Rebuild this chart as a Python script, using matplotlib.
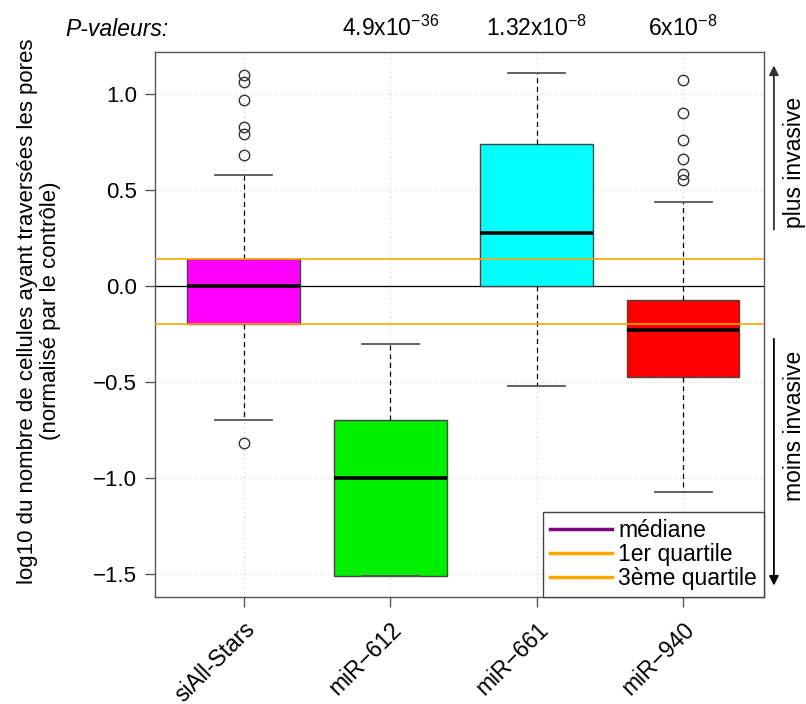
import matplotlib
matplotlib.use("Agg")
import matplotlib.pyplot as plt

plt.rcParams["font.family"] = ["Liberation Sans", "DejaVu Sans"]
plt.rcParams["mathtext.fontset"] = "custom"
plt.rcParams["mathtext.rm"] = "Liberation Sans"

# values
groups = ["siAll-Stars", "miR\u2212612", "miR\u2212661", "miR\u2212940"]
colors = ["#FF00FF", "#00EE00", "#00FFFF", "#FF0000"]
medians = [0.0, -0.998, 0.279, -0.229]
q1 = [-0.196, -1.511, 0.0, -0.476]
q3 = [0.142, -0.695, 0.740, -0.074]
whis_lo = [-0.697, -1.511, -0.522, -1.074]
whis_hi = [0.582, -0.30, 1.113, 0.439]
outliers = [
    [1.100, 1.065, 0.970, 0.829, 0.793, 0.685, -0.818],
    [],
    [],
    [1.073, 0.902, 0.761, 0.662, 0.586, 0.555],
]
pvalues = [None, r"4.9x10$^{\mathregular{-36}}$", r"1.32x10$^{\mathregular{-8}}$",
           r"6x10$^{\mathregular{-8}}$"]

fig = plt.figure(figsize=(8.06, 7.04), dpi=100)
ax = fig.add_axes([0.1923, 0.152, 0.7557, 0.774])

positions = list(range(1, len(groups) + 1))

# grid
for y in [-1.5, -1.0, -0.5, 0.0, 0.5, 1.0]:
    ax.axhline(y, color="#cccccc", lw=0.8, ls=(0, (1, 3)), zorder=0)
for x in positions:
    ax.axvline(x, color="#cccccc", lw=0.8, ls=(0, (1, 3)), zorder=0)

stats = []
for i in range(len(groups)):
    stats.append(dict(med=medians[i], q1=q1[i], q3=q3[i], whislo=whis_lo[i],
                      whishi=whis_hi[i], fliers=outliers[i]))

bp = ax.bxp(stats, positions=positions, widths=0.77, patch_artist=True,
            boxprops=dict(edgecolor="#444444", linewidth=1.0),
            medianprops=dict(color="black", linewidth=2.6),
            whiskerprops=dict(color="black", linewidth=0.9, linestyle=(0, (4, 3))),
            capprops=dict(color="#555555", linewidth=1.3),
            flierprops=dict(marker="o", markerfacecolor="none",
                            markeredgecolor="#333333", markersize=7.5,
                            markeredgewidth=1.0),
            capwidths=0.39, zorder=2)
for patch, c in zip(bp["boxes"], colors):
    patch.set_facecolor(c)

# reference lines
ax.axhline(0.0, color="black", lw=0.9, zorder=1.5)
ax.axhline(q1[0], color="#FFA500", lw=1.2, zorder=3)
ax.axhline(q3[0], color="#FFA500", lw=1.2, zorder=3)

ax.set_xlim(0.394, 4.553)
ax.set_ylim(-1.62, 1.22)
ax.set_yticks([-1.5, -1.0, -0.5, 0.0, 0.5, 1.0])
ax.set_yticklabels(["\u22121.5", "\u22121.0", "\u22120.5", "0.0", "0.5", "1.0"],
                   fontsize=16)
ax.set_xticks(positions)
ax.set_xticklabels(groups, fontsize=16.5, rotation=45, ha="right", va="top",
                   rotation_mode="anchor")
ax.tick_params(axis="both", length=7, color="#555555", width=1.0, pad=6)
ax.tick_params(axis="x", pad=8)
for s in ax.spines.values():
    s.set_color("#555555")
    s.set_linewidth(1.0)

ax.set_ylabel("log10 du nombre de cellules ayant traversées les pores\n"
              "(normalisé par le contrôle)", fontsize=16, linespacing=1.1)
ax.yaxis.set_label_coords(-0.155, 0.525)

# legend
h_med, = ax.plot([], [], color="#800080", lw=2.5)
h_q1, = ax.plot([], [], color="#FFA500", lw=2.5)
h_q3, = ax.plot([], [], color="#FFA500", lw=2.5)
leg = ax.legend([h_med, h_q1, h_q3], ["médiane", "1er quartile", "3ème quartile"],
                loc="lower right", fontsize=16.5, borderaxespad=0, fancybox=False,
                framealpha=1, edgecolor="#444444", handlelength=2.7,
                handletextpad=0.3, labelspacing=0.05, borderpad=0.3)
leg.get_frame().set_linewidth(1.0)
leg.set_zorder(5)

# p-values above the boxes
ax.text(-0.148, 1.02, "P-valeurs:", transform=ax.transAxes, fontsize=16.5,
        style="italic", ha="left", va="bottom")
for x, p in zip(positions, pvalues):
    if p:
        ax.text(x, 1.02, p, transform=ax.get_xaxis_transform(), fontsize=16.5,
                ha="center", va="bottom")

# direction arrows on the right
ax.annotate("", xy=(4.62, 1.165), xytext=(4.62, 0.28), xycoords="data",
            arrowprops=dict(arrowstyle="-|>", color="#333333", lw=1.3,
                            mutation_scale=14), annotation_clip=False)
ax.annotate("", xy=(4.62, -1.575), xytext=(4.62, -0.26), xycoords="data",
            arrowprops=dict(arrowstyle="-|>", color="black", lw=1.3,
                            mutation_scale=14), annotation_clip=False)
ax.text(4.76, 0.645, "plus invasive", rotation=90, fontsize=16.5,
        ha="center", va="center", clip_on=False)
ax.text(4.76, -0.73, "moins invasive", rotation=90, fontsize=16.5,
        ha="center", va="center", clip_on=False)

plt.savefig("out.png", dpi=100)
